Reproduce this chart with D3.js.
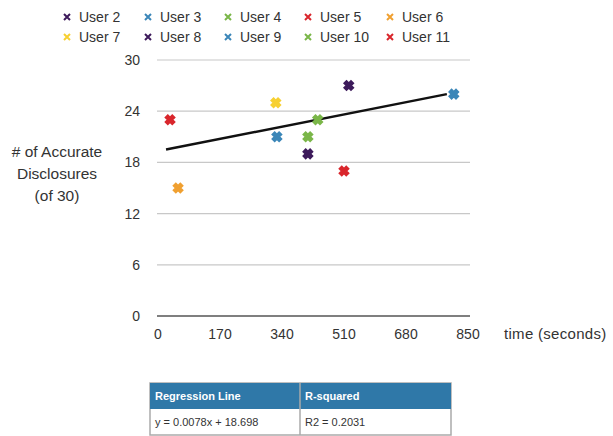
<!DOCTYPE html>
<html>
<head>
<meta charset="utf-8">
<script src="https://cdn.jsdelivr.net/npm/d3@7"></script>
<style>
  body { margin: 0; background: #fff; overflow: hidden; }
  svg { font-family: "Liberation Sans", Arial, sans-serif; }
</style>
</head>
<body>
<div id="chart"></div>
<script>
// users and their colours, in legend order
const users = ['User 2', 'User 3', 'User 4', 'User 5', 'User 6', 'User 7', 'User 8', 'User 9', 'User 10', 'User 11'];
const userColors = ['#3d1a5b', '#3b86b8', '#7ab648', '#d9262c', '#f0a030', '#f7d031', '#3d1a5b', '#3b86b8', '#7ab648', '#d9262c'];
// seconds taken / accurate disclosures, one per user
const times = [411, 326, 438, 510, 55, 323, 523, 811, 411, 33];
const disclosures = [19, 21, 23, 17, 15, 25, 27, 26, 21, 23];
const xTicks = [0, 170, 340, 510, 680, 850];
const yTicks = [0, 6, 12, 18, 24, 30];
// regression line end points as drawn
const trendX = [22, 792];
const trendY = [19.5, 26];
const tableHead = ['Regression Line', 'R-squared'];
const tableRow = ['y = 0.0078x + 18.698', 'R2 = 0.2031'];

const width = 613, height = 436;
const margin = { left: 158, right: 145, top: 60, bottom: 120 };

const svg = d3.select('#chart').append('svg')
  .attr('width', width)
  .attr('height', height);

const x = d3.scaleLinear().domain([0, 850]).range([margin.left, width - margin.right]);
const y = d3.scaleLinear().domain([0, 30]).range([height - margin.bottom, margin.top]);

// gridlines
svg.append('g')
  .selectAll('line')
  .data(yTicks)
  .join('line')
  .attr('x1', x(0) - 1)
  .attr('x2', x(850) + 2)
  .attr('y1', d => y(d))
  .attr('y2', d => y(d))
  .attr('stroke', d => (d === 0 ? '#555' : '#c8c8c8'))
  .attr('stroke-width', d => (d === 0 ? 1.5 : 1.2));

// y tick labels
svg.append('g')
  .selectAll('text')
  .data(yTicks)
  .join('text')
  .attr('x', 140)
  .attr('y', d => y(d))
  .attr('dy', '0.35em')
  .attr('text-anchor', 'end')
  .attr('font-size', 14)
  .attr('fill', '#333')
  .text(d => d);

// x tick labels
svg.append('g')
  .selectAll('text')
  .data(xTicks)
  .join('text')
  .attr('x', d => x(d))
  .attr('y', y(0) + 23)
  .attr('text-anchor', 'middle')
  .attr('font-size', 14)
  .attr('fill', '#333')
  .text(d => d);

svg.append('text')
  .attr('x', 504)
  .attr('y', y(0) + 23)
  .attr('font-size', 15)
  .attr('letter-spacing', 0.3)
  .attr('fill', '#333')
  .text('time (seconds)');

// y axis title
svg.append('text')
  .attr('text-anchor', 'middle')
  .attr('font-size', 15.5)
  .attr('fill', '#333')
  .selectAll('tspan')
  .data(['# of Accurate', 'Disclosures', '(of 30)'])
  .join('tspan')
  .attr('x', 57)
  .attr('y', (d, i) => 157 + i * 22)
  .text(d => d);

// regression line
svg.append('line')
  .attr('x1', x(trendX[0]))
  .attr('y1', y(trendY[0]))
  .attr('x2', x(trendX[1]))
  .attr('y2', y(trendY[1]))
  .attr('stroke', '#111')
  .attr('stroke-width', 2.5);

// cross marker path
const cross = (s) => `M${-s},${-s}L${s},${s}M${-s},${s}L${s},${-s}`;

svg.append('g')
  .selectAll('path')
  .data(d3.range(users.length))
  .join('path')
  .attr('transform', i => `translate(${x(times[i])},${y(disclosures[i])})`)
  .attr('d', cross(4))
  .attr('stroke', i => userColors[i])
  .attr('stroke-width', 5)
  .attr('fill', 'none');

// legend
const legendX = [67, 148, 228, 308, 390];
const legend = svg.append('g')
  .selectAll('g')
  .data(users)
  .join('g')
  .attr('transform', (d, i) => `translate(${legendX[i % 5]},${i < 5 ? 17 : 37})`);

legend.append('path')
  .attr('d', cross(3))
  .attr('stroke', (d, i) => userColors[i])
  .attr('stroke-width', 2);

legend.append('text')
  .attr('x', 12)
  .attr('dy', '0.35em')
  .attr('font-size', 14)
  .attr('fill', '#333')
  .text(d => d);

// regression table
const tLeft = 150, tMid = 300, tRight = 451, tTop = 383, headH = 26, rowH = 26;
const table = svg.append('g');
table.append('rect')
  .attr('x', tLeft).attr('y', tTop)
  .attr('width', tRight - tLeft).attr('height', headH + rowH)
  .attr('fill', '#fff').attr('stroke', '#aaa').attr('stroke-width', 1.5);
table.append('rect')
  .attr('x', tLeft).attr('y', tTop)
  .attr('width', tRight - tLeft).attr('height', headH)
  .attr('fill', '#2f78a8');
table.append('line')
  .attr('x1', tMid).attr('x2', tMid)
  .attr('y1', tTop).attr('y2', tTop + headH + rowH)
  .attr('stroke', '#aaa')
  .attr('stroke-width', 1.5);

table.selectAll('.head')
  .data(tableHead)
  .join('text')
  .attr('class', 'head')
  .attr('x', (d, i) => (i === 0 ? tLeft : tMid) + 5)
  .attr('y', tTop + headH / 2)
  .attr('dy', '0.35em')
  .attr('font-size', 11)
  .attr('font-weight', 'bold')
  .attr('fill', '#fff')
  .text(d => d);

table.selectAll('.cell')
  .data(tableRow)
  .join('text')
  .attr('class', 'cell')
  .attr('x', (d, i) => (i === 0 ? tLeft : tMid) + 5)
  .attr('y', tTop + headH + 17)
  .attr('font-size', 11)
  .attr('fill', '#333')
  .text(d => d);
</script>
</body>
</html>
